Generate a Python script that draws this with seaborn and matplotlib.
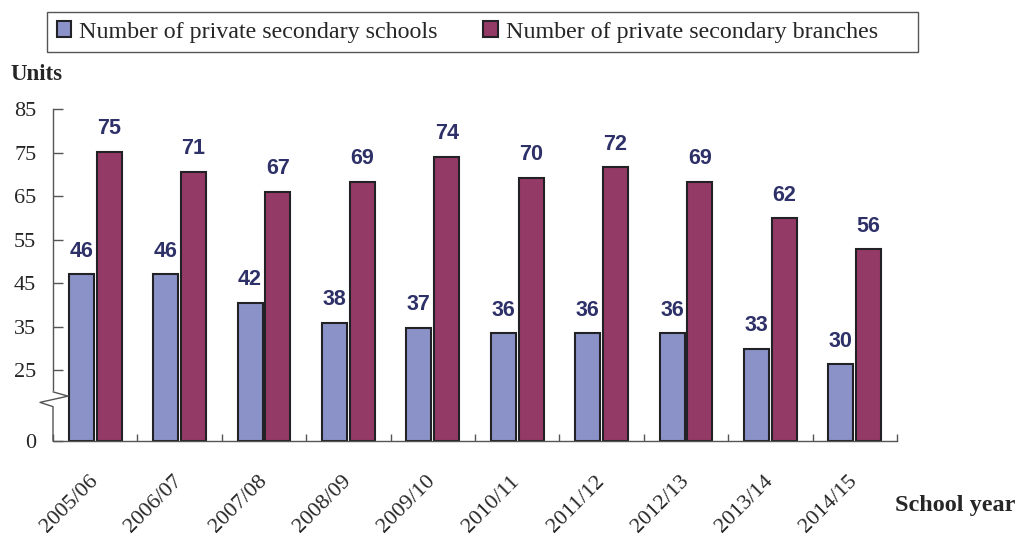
import numpy as np
import pandas as pd
import matplotlib
matplotlib.use("Agg")
import matplotlib.pyplot as plt
import matplotlib.transforms as mtransforms
from matplotlib.patches import Rectangle, Patch
from matplotlib.lines import Line2D
import seaborn as sns

# ---------------- data ----------------
years = ["2005/06", "2006/07", "2007/08", "2008/09", "2009/10",
         "2010/11", "2011/12", "2012/13", "2013/14", "2014/15"]
series_names = ["Number of private secondary schools",
                "Number of private secondary branches"]
# printed data labels
schools_labels = [46, 46, 42, 38, 37, 36, 36, 36, 33, 30]
branches_labels = [75, 71, 67, 69, 74, 70, 72, 69, 62, 56]
# bar heights as drawn against the value axis
schools_heights = [47.1, 47.1, 40.5, 35.9, 34.7, 33.5, 33.5, 33.5, 29.9, 26.4]
branches_heights = [75.2, 70.6, 66.0, 68.3, 74.1, 69.3, 71.7, 68.3, 59.9, 52.8]
y_ticks = [0, 25, 35, 45, 55, 65, 75, 85]

df = pd.DataFrame({
    "year": years * 2,
    "series": [series_names[0]] * len(years) + [series_names[1]] * len(years),
    "value": schools_heights + branches_heights,
    "label": schools_labels + branches_labels,
})

# ---------------- style ----------------
sns.set_style("white")
plt.rcParams["font.family"] = ["Liberation Serif", "DejaVu Serif"]
plt.rcParams["axes.linewidth"] = 1.0

blue = "#8A92C8"
maroon = "#943A66"
edge = "#222226"
axis_col = "#555555"
label_col = "#2E3068"

fig = plt.figure(figsize=(10.16, 5.38), dpi=100)
ax = fig.add_axes([53 / 1016, (538 - 441) / 538, (897 - 53) / 1016, (441 - 109.3) / 538])

# broken value axis: 0-25 compressed
BREAK = 25.0
K = 16.34 / 25.0
C = BREAK - BREAK * K


def fwd(v):
    v = np.asarray(v, dtype=float)
    return np.where(v <= BREAK, v * K, v - C)


def inv(u):
    u = np.asarray(u, dtype=float)
    return np.where(u <= BREAK * K, u / K, u + C)


ax.set_yscale("function", functions=(fwd, inv))

sns.barplot(data=df, x="year", y="value", hue="series", order=years,
            hue_order=series_names, palette=[blue, maroon],
            width=0.66, gap=0.1, edgecolor=edge, linewidth=1.5,
            saturation=1, errorbar=None, legend=False, ax=ax)

ax.set_ylim(0, 85)
ax.set_xlim(-0.5, len(years) - 0.5)
ax.set_xlabel("")
ax.set_ylabel("")

# data labels
for cont, labs in zip(ax.containers, [schools_labels, branches_labels]):
    for bar, lab in zip(cont, labs):
        x = bar.get_x() + bar.get_width() / 2
        ax.annotate(str(lab), (x, bar.get_height()), xytext=(0, 16.5),
                    textcoords="offset points", ha="center", va="center",
                    fontsize=15.5, fontweight="bold", color=label_col,
                    family=["Liberation Sans", "DejaVu Sans"])

# ticks
ax.set_yticks(y_ticks)
ax.set_yticklabels([str(t) for t in y_ticks])
ax.tick_params(axis="y", direction="in", length=7, width=1, color=axis_col,
               labelsize=16, pad=12, left=True)
ax.set_xticks(range(len(years)))
ax.set_xticklabels(years, rotation=45, ha="right", va="center",
                   rotation_mode="anchor")
ax.tick_params(axis="x", which="major", length=0, labelsize=16, pad=27)
ax.set_xticks(np.arange(-0.5, len(years)), minor=True)
ax.tick_params(axis="x", which="minor", direction="in", length=5, width=1,
               color=axis_col, bottom=True)

for s in ["top", "right"]:
    ax.spines[s].set_visible(False)
ax.spines["bottom"].set_color(axis_col)
ax.spines["left"].set_color(axis_col)
ax.spines["left"].set_bounds(18.0, 85)

# axis break zigzag on the value axis
tr = mtransforms.blended_transform_factory(ax.transAxes, ax.transData)
bx = np.array([0.0, 15.0, -13.0, 0.0, 0.0]) / 844.0
by = [17.3, 15.8, 13.6, 12.1, 0.0]
ax.add_line(Line2D(bx, by, transform=tr, color=axis_col, lw=1.0,
                   clip_on=False))

# axis titles
fig.text(10 / 1016, (538 - 75) / 538, "Units", fontsize=16.5, fontweight="bold",
         ha="left", va="center")
fig.text(895 / 1016, (538 - 505) / 538, "School year", fontsize=17.5,
         fontweight="bold", ha="left", va="center")

# legend
handles = [Patch(facecolor=blue, edgecolor=edge, linewidth=1.5),
           Patch(facecolor=maroon, edgecolor=edge, linewidth=1.5)]
fig.legend(handles, series_names, loc="center left",
           bbox_to_anchor=(57 / 1016, (538 - 32) / 538), ncol=2,
           frameon=False, fontsize=17.3, borderpad=0, borderaxespad=0,
           handlelength=0.6, handleheight=0.6, handletextpad=0.33,
           columnspacing=1.9)
fig.patches.append(Rectangle((47 / 1016, (538 - 52) / 538), 871 / 1016, 40 / 538,
                             transform=fig.transFigure, fill=False,
                             edgecolor=axis_col, linewidth=1.0))

fig.savefig("out.png", dpi=100)
